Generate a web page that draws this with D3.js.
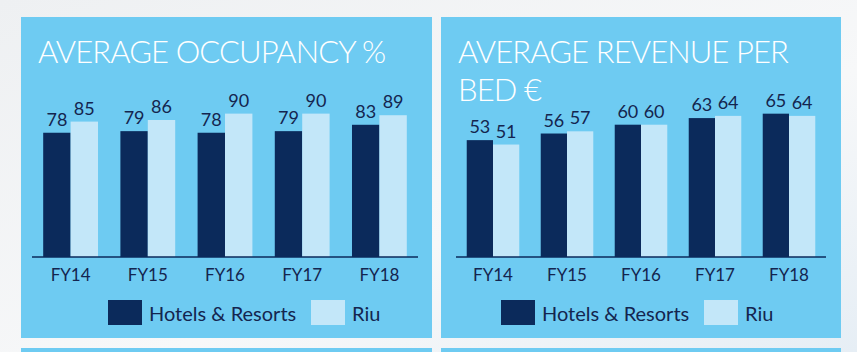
<!DOCTYPE html>
<html>
<head>
<meta charset="utf-8">
<script src="https://cdn.jsdelivr.net/npm/d3@7"></script>
<style>
  html, body { margin: 0; padding: 0; }
  body { width: 857px; height: 352px; overflow: hidden; background: #f2f4f6; }
</style>
</head>
<body>
<div id="chart"></div>
<script>
const years = ["FY14", "FY15", "FY16", "FY17", "FY18"];
const seriesNames = ["Hotels & Resorts", "Riu"];
const occHotels = [78, 79, 78, 79, 83];
const occRiu = [85, 86, 90, 90, 89];
const revHotels = [53, 56, 60, 63, 65];
const revRiu = [51, 57, 60, 64, 64];

const W = 857, H = 352;
const panelColor = "#6ecbf2";
const darkBar = "#0b2a5b";
const lightBar = "#c3e7f9";
const textColor = "#14254f";
const fontFam = "Lato, 'Open Sans', sans-serif";

const svg = d3.select("#chart").append("svg")
  .attr("width", W).attr("height", H);

const defs = svg.append("defs");
const bg = defs.append("linearGradient").attr("id", "bg")
  .attr("x1", "0%").attr("y1", "0%").attr("x2", "100%").attr("y2", "100%");
bg.append("stop").attr("offset", "0%").attr("stop-color", "#eef0f2");
bg.append("stop").attr("offset", "60%").attr("stop-color", "#f7f8f9");
bg.append("stop").attr("offset", "100%").attr("stop-color", "#e6eef5");
svg.append("rect").attr("width", W).attr("height", H).attr("fill", "url(#bg)");

// 下面两块面板的顶部
svg.append("rect").attr("x", 21).attr("y", 348).attr("width", 411).attr("height", 10).attr("fill", panelColor);
svg.append("rect").attr("x", 441).attr("y", 348).attr("width", 400).attr("height", 10).attr("fill", panelColor);

function drawPanel(opt) {
  const g = svg.append("g");
  g.append("rect")
    .attr("x", opt.px).attr("y", 17)
    .attr("width", opt.pw).attr("height", 321)
    .attr("fill", panelColor);

  // 标题，每行一个 text
  opt.title.forEach((line, i) => {
    g.append("text")
      .attr("x", opt.tx)
      .attr("y", 63 + i * 37.5)
      .attr("font-family", fontFam)
      .attr("font-weight", 300)
      .attr("font-size", "31px")
      .attr("letter-spacing", -0.9)
      .attr("fill", "#ffffff")
      .text(line);
  });

  const x0 = d3.scaleBand()
    .domain(years)
    .range(opt.xr)
    .paddingInner(0.29)
    .paddingOuter(0.145);
  const x1 = d3.scaleBand()
    .domain(seriesNames)
    .range([0, x0.bandwidth()]);
  const y = d3.scaleLinear()
    .domain([0, opt.ymax])
    .range([257, 257 - opt.ymax * opt.pxPerUnit]);
  const color = d3.scaleOrdinal().domain(seriesNames).range([darkBar, lightBar]);

  const rows = years.map((yr, i) => ({
    year: yr,
    values: [
      { name: seriesNames[0], v: opt.a[i] },
      { name: seriesNames[1], v: opt.b[i] }
    ]
  }));

  const groups = g.selectAll(".grp").data(rows).join("g")
    .attr("transform", d => `translate(${x0(d.year)},0)`);

  groups.selectAll("rect").data(d => d.values).join("rect")
    .attr("x", d => x1(d.name))
    .attr("y", d => y(d.v))
    .attr("width", x1.bandwidth())
    .attr("height", d => y(0) - y(d.v))
    .attr("fill", d => color(d.name));

  groups.selectAll("text").data(d => d.values).join("text")
    .attr("x", d => x1(d.name) + x1.bandwidth() / 2)
    .attr("y", d => y(d.v) - 7)
    .attr("text-anchor", "middle")
    .attr("font-family", fontFam)
    .attr("font-size", "18px")
    .attr("fill", textColor)
    .text(d => d.v);

  // x 轴
  const axis = g.append("g")
    .attr("transform", `translate(0,${y(0)})`)
    .call(d3.axisBottom(x0).tickSize(0).tickPadding(12));
  axis.select(".domain").attr("stroke", darkBar).attr("stroke-width", 1.5)
    .attr("d", `M${opt.xr[0]},0H${opt.xr[1]}`);
  axis.selectAll("text")
    .attr("font-family", fontFam)
    .attr("font-size", "17px")
    .attr("fill", textColor);

  // 图例
  const leg = g.append("g").attr("transform", `translate(${opt.lx},300)`);
  const legX = [0, 203];
  seriesNames.forEach((n, i) => {
    leg.append("rect").attr("x", legX[i]).attr("y", 0)
      .attr("width", 34).attr("height", 25).attr("fill", color(n));
    leg.append("text").attr("x", legX[i] + 41).attr("y", 21)
      .attr("font-family", fontFam)
      .attr("font-size", "20px")
      .attr("fill", textColor)
      .text(n);
  });
}

drawPanel({
  px: 21, pw: 411, tx: 38,
  title: ["AVERAGE OCCUPANCY %"],
  xr: [32, 418], ymax: 100, pxPerUnit: 1.593,
  a: occHotels, b: occRiu, lx: 108
});

drawPanel({
  px: 441, pw: 400, tx: 458,
  title: ["AVERAGE REVENUE PER", "BED €"],
  xr: [456, 826], ymax: 70, pxPerUnit: 2.205,
  a: revHotels, b: revRiu, lx: 501
});
</script>
</body>
</html>
